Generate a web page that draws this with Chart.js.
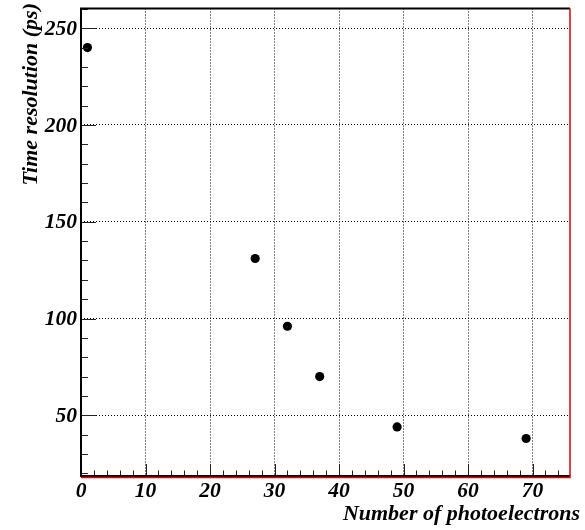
<!DOCTYPE html>
<html>
<head>
<meta charset="utf-8">
<script src="https://cdn.jsdelivr.net/npm/chart.js@4/dist/chart.umd.min.js"></script>
<style>
html,body{margin:0;padding:0;background:#fff;}
#c{display:block;}
</style>
</head>
<body>
<canvas id="c" width="585" height="530"></canvas>
<script>
// ---- data ----
const photoelectrons = [1, 27, 32, 37, 49, 69];
const timeResolution = [240, 131, 96, 70, 44, 38];
const xTickValues = [0, 10, 20, 30, 40, 50, 60, 70];
const xTickLabels = ['0', '10', '20', '30', '40', '50', '60', '70'];
const yTickValues = [50, 100, 150, 200, 250];
const yTickLabels = ['50', '100', '150', '200', '250'];
const xTitle = 'Number of photoelectrons';
const yTitle = 'Time resolution (ps)';

const X_MIN = 0, X_MAX = 75.8, Y_MIN = 18.1, Y_MAX = 260.2;
const FONT = 'italic bold 22px "Liberation Serif", "DejaVu Serif", serif';
const TICK_FONT = 'italic bold 21.5px "Liberation Serif", "DejaVu Serif", serif';

const rootFrame = {
  id: 'rootFrame',
  afterDraw(chart) {
    const ctx = chart.ctx;
    const xs = chart.scales.x, ys = chart.scales.y;
    const a = chart.chartArea;
    ctx.save();
    // ticks on y (inside)
    ctx.strokeStyle = '#222';
    ctx.lineWidth = 1;
    for (let v = 20; v <= Y_MAX; v += 10) {
      const y = Math.round(ys.getPixelForValue(v)) + 0.5;
      const len = (v % 50 === 0) ? 15 : 7;
      ctx.beginPath(); ctx.moveTo(a.left, y); ctx.lineTo(a.left + len, y); ctx.stroke();
    }
    for (let v = 2; v <= X_MAX; v += 2) {
      const x = Math.round(xs.getPixelForValue(v)) + 0.5;
      const len = (v % 10 === 0) ? 13 : 6.5;
      ctx.beginPath(); ctx.moveTo(x, a.bottom); ctx.lineTo(x, a.bottom - len); ctx.stroke();
    }
    // frame
    ctx.lineWidth = 2;
    ctx.strokeStyle = '#000';
    ctx.beginPath();
    ctx.moveTo(a.left, a.bottom); ctx.lineTo(a.left, a.top); ctx.lineTo(a.right, a.top);
    ctx.stroke();
    ctx.beginPath();
    ctx.moveTo(a.left, a.bottom - 1); ctx.lineTo(a.right, a.bottom - 1);
    ctx.stroke();
    ctx.strokeStyle = '#e00000';
    ctx.lineWidth = 1.5;
    ctx.beginPath();
    ctx.moveTo(a.left, a.bottom + 0.5); ctx.lineTo(a.right, a.bottom + 0.5); ctx.lineTo(a.right, a.top);
    ctx.stroke();
    // tick labels
    ctx.fillStyle = '#000';
    ctx.font = TICK_FONT;
    ctx.textAlign = 'center'; ctx.textBaseline = 'middle';
    xTickValues.forEach((v, i) => {
      ctx.fillText(xTickLabels[i], xs.getPixelForValue(v), a.bottom + 14);
    });
    ctx.textAlign = 'right';
    yTickValues.forEach((v, i) => {
      ctx.fillText(yTickLabels[i], a.left - 4, ys.getPixelForValue(v) + 1);
    });
    // titles
    ctx.font = FONT;
    ctx.textAlign = 'right'; ctx.textBaseline = 'alphabetic';
    ctx.fillText(xTitle, 580, 520);
    ctx.translate(37, 3);
    ctx.rotate(-Math.PI / 2);
    ctx.textAlign = 'right';
    ctx.fillText(yTitle, 0, 0);
    ctx.restore();
  }
};

new Chart(document.getElementById('c'), {
  type: 'scatter',
  data: {
    datasets: [{
      data: photoelectrons.map((x, i) => ({ x: x, y: timeResolution[i] })),
      backgroundColor: '#000',
      borderColor: '#000',
      pointRadius: 4.6,
      pointHoverRadius: 4.6,
      borderWidth: 0
    }]
  },
  options: {
    responsive: false,
    animation: false,
    events: [],
    layout: { padding: { top: 8.5, right: 15, left: 0, bottom: 0 } },
    plugins: { legend: { display: false }, tooltip: { enabled: false } },
    scales: {
      x: {
        type: 'linear', min: X_MIN, max: X_MAX,
        afterBuildTicks: s => { s.ticks = xTickValues.slice(1).map(v => ({ value: v })); },
        afterFit: s => { s.height = 53; },
        ticks: { display: false },
        border: { display: false, dash: [1, 2] },
        grid: { color: '#000', lineWidth: 1, drawTicks: false }
      },
      y: {
        type: 'linear', min: Y_MIN, max: Y_MAX,
        afterBuildTicks: s => { s.ticks = yTickValues.map(v => ({ value: v })); },
        afterFit: s => { s.width = 81; },
        ticks: { display: false },
        border: { display: false, dash: [1, 2] },
        grid: { color: '#000', lineWidth: 1, drawTicks: false }
      }
    }
  },
  plugins: [rootFrame]
});
</script>
</body>
</html>
